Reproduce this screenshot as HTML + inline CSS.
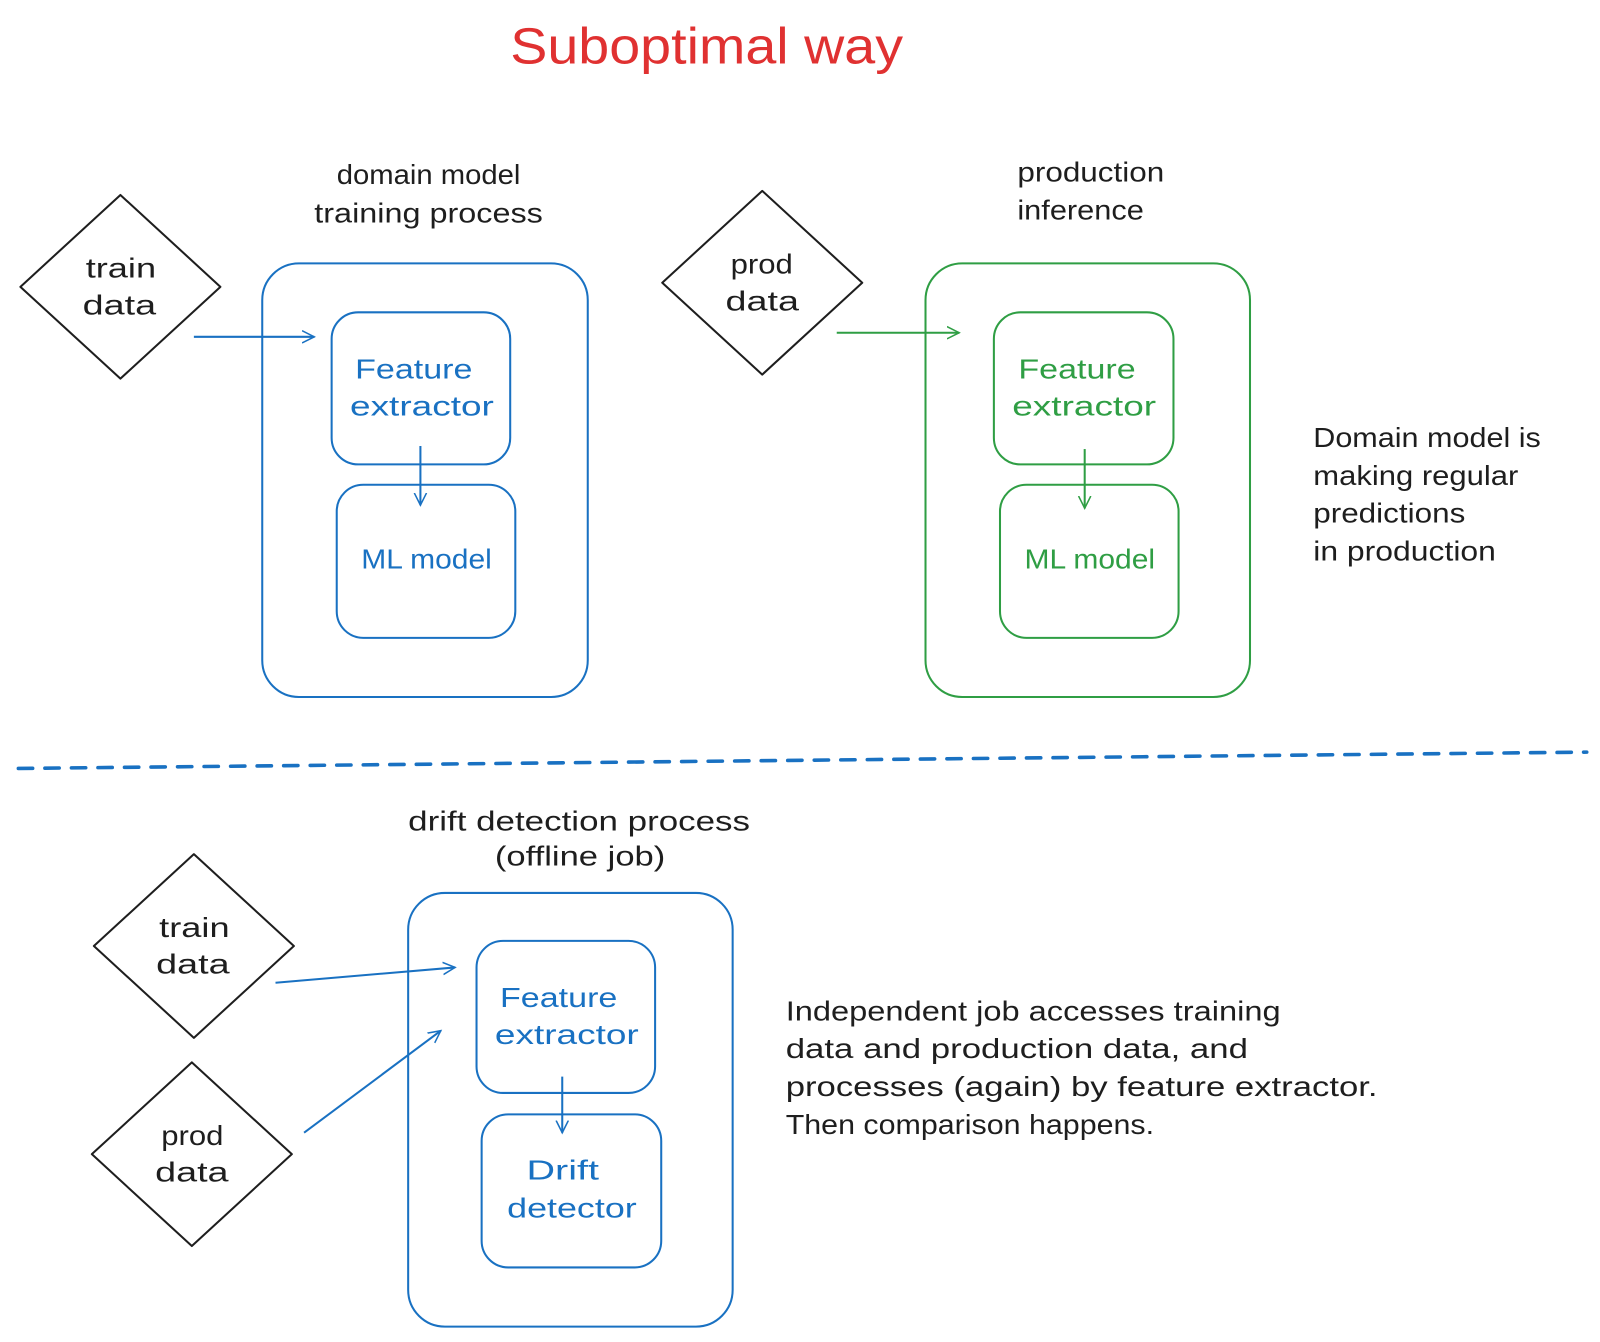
<!DOCTYPE html>
<html><head><meta charset="utf-8"><style>
html,body{margin:0;padding:0;background:#fff;width:1600px;height:1342px;overflow:hidden}
svg{display:block}
text{font-family:"Liberation Sans",sans-serif}
</style></head><body>
<svg width="1600" height="1342" viewBox="0 0 1568 1315" xmlns="http://www.w3.org/2000/svg">
<defs>
<marker id="ab" markerWidth="14" markerHeight="14" refX="12" refY="7" orient="auto" markerUnits="userSpaceOnUse"><path d="M0,1 L12,7 L0,13" fill="none" stroke="#1971c2" stroke-width="1.5"/></marker>
<marker id="ag" markerWidth="14" markerHeight="14" refX="12" refY="7" orient="auto" markerUnits="userSpaceOnUse"><path d="M0,1 L12,7 L0,13" fill="none" stroke="#2f9e44" stroke-width="1.5"/></marker>
</defs>
<text x="500" y="62" font-size="50" fill="#e03131" textLength="385" lengthAdjust="spacingAndGlyphs">Suboptimal way</text>

<g fill="none" stroke="#1e1e1e" stroke-width="2">
<path d="M118,191 L216,281 L118,371 L20,281 Z" stroke-linejoin="round"/>
<path d="M747,187 L845,277 L747,367 L649,277 Z" stroke-linejoin="round"/>
<path d="M190,837 L288,927 L190,1017 L92,927 Z" stroke-linejoin="round"/>
<path d="M188,1041 L286,1131 L188,1221 L90,1131 Z" stroke-linejoin="round"/>
</g>
<g font-size="27" fill="#1e1e1e" lengthAdjust="spacingAndGlyphs">
<text x="84" y="272" textLength="69" lengthAdjust="spacingAndGlyphs">train</text><text x="81" y="308" textLength="72" lengthAdjust="spacingAndGlyphs">data</text>
<text x="716" y="268" textLength="61" lengthAdjust="spacingAndGlyphs">prod</text><text x="711" y="304" textLength="72" lengthAdjust="spacingAndGlyphs">data</text>
<text x="156" y="918" textLength="69" lengthAdjust="spacingAndGlyphs">train</text><text x="153" y="954" textLength="72" lengthAdjust="spacingAndGlyphs">data</text>
<text x="158" y="1122" textLength="61" lengthAdjust="spacingAndGlyphs">prod</text><text x="152" y="1158" textLength="72" lengthAdjust="spacingAndGlyphs">data</text>
<text x="330" y="180" textLength="180" lengthAdjust="spacingAndGlyphs">domain model</text><text x="308" y="218" textLength="224" lengthAdjust="spacingAndGlyphs">training process</text>
<text x="400" y="814" textLength="335" lengthAdjust="spacingAndGlyphs">drift detection process</text><text x="485" y="848" textLength="167" lengthAdjust="spacingAndGlyphs">(offline job)</text>
<text x="997" y="178" textLength="144" lengthAdjust="spacingAndGlyphs">production</text><text x="997" y="215" textLength="124" lengthAdjust="spacingAndGlyphs">inference</text>
<text x="1287" y="438" textLength="223" lengthAdjust="spacingAndGlyphs">Domain model is</text><text x="1287" y="475" textLength="201" lengthAdjust="spacingAndGlyphs">making regular</text><text x="1287" y="512" textLength="149" lengthAdjust="spacingAndGlyphs">predictions</text><text x="1287" y="549" textLength="179" lengthAdjust="spacingAndGlyphs">in production</text>
<text x="770" y="1000" textLength="485" lengthAdjust="spacingAndGlyphs">Independent job accesses training</text>
<text x="770" y="1037" textLength="453" lengthAdjust="spacingAndGlyphs">data and production data, and</text>
<text x="770" y="1074" textLength="580" lengthAdjust="spacingAndGlyphs">processes (again) by feature extractor.</text>
<text x="770" y="1111" textLength="361" lengthAdjust="spacingAndGlyphs">Then comparison happens.</text>
</g>

<g fill="none" stroke="#1971c2" stroke-width="2">
<rect x="257" y="258" width="319" height="425" rx="36"/>
<rect x="325" y="306" width="175" height="149" rx="26"/>
<rect x="330" y="475" width="175" height="150" rx="26"/>
<rect x="400" y="875" width="318" height="425" rx="36"/>
<rect x="467" y="922" width="175" height="149" rx="26"/>
<rect x="472" y="1092" width="176" height="150" rx="26"/>
<line x1="190" y1="330" x2="308" y2="330" marker-end="url(#ab)"/>
<line x1="412" y1="437" x2="412" y2="495" marker-end="url(#ab)"/>
<line x1="270" y1="963" x2="446" y2="948" marker-end="url(#ab)"/>
<line x1="298" y1="1110" x2="432" y2="1010" marker-end="url(#ab)"/>
<line x1="551" y1="1055" x2="551" y2="1110" marker-end="url(#ab)"/>
<line x1="18" y1="753" x2="1555" y2="737" stroke-width="3.5" stroke-dasharray="14 12" stroke-linecap="round"/>
</g>
<g fill="none" stroke="#2f9e44" stroke-width="2">
<rect x="907" y="258" width="318" height="425" rx="36"/>
<rect x="974" y="306" width="176" height="149" rx="26"/>
<rect x="980" y="475" width="175" height="150" rx="26"/>
<line x1="820" y1="326" x2="940" y2="326" marker-end="url(#ag)"/>
<line x1="1063" y1="440" x2="1063" y2="498" marker-end="url(#ag)"/>
</g>
<g font-size="27" fill="#1971c2">
<text x="348" y="371" textLength="115" lengthAdjust="spacingAndGlyphs">Feature</text><text x="343" y="407" textLength="141" lengthAdjust="spacingAndGlyphs">extractor</text>
<text x="354" y="557" textLength="128" lengthAdjust="spacingAndGlyphs">ML model</text>
<text x="490" y="987" textLength="115" lengthAdjust="spacingAndGlyphs">Feature</text><text x="485" y="1023" textLength="141" lengthAdjust="spacingAndGlyphs">extractor</text>
<text x="516" y="1156" textLength="71" lengthAdjust="spacingAndGlyphs">Drift</text><text x="497" y="1193" textLength="127" lengthAdjust="spacingAndGlyphs">detector</text>
</g>
<g font-size="27" fill="#2f9e44">
<text x="998" y="371" textLength="115" lengthAdjust="spacingAndGlyphs">Feature</text><text x="992" y="407" textLength="141" lengthAdjust="spacingAndGlyphs">extractor</text>
<text x="1004" y="557" textLength="128" lengthAdjust="spacingAndGlyphs">ML model</text>
</g>
</svg>
</body></html>
